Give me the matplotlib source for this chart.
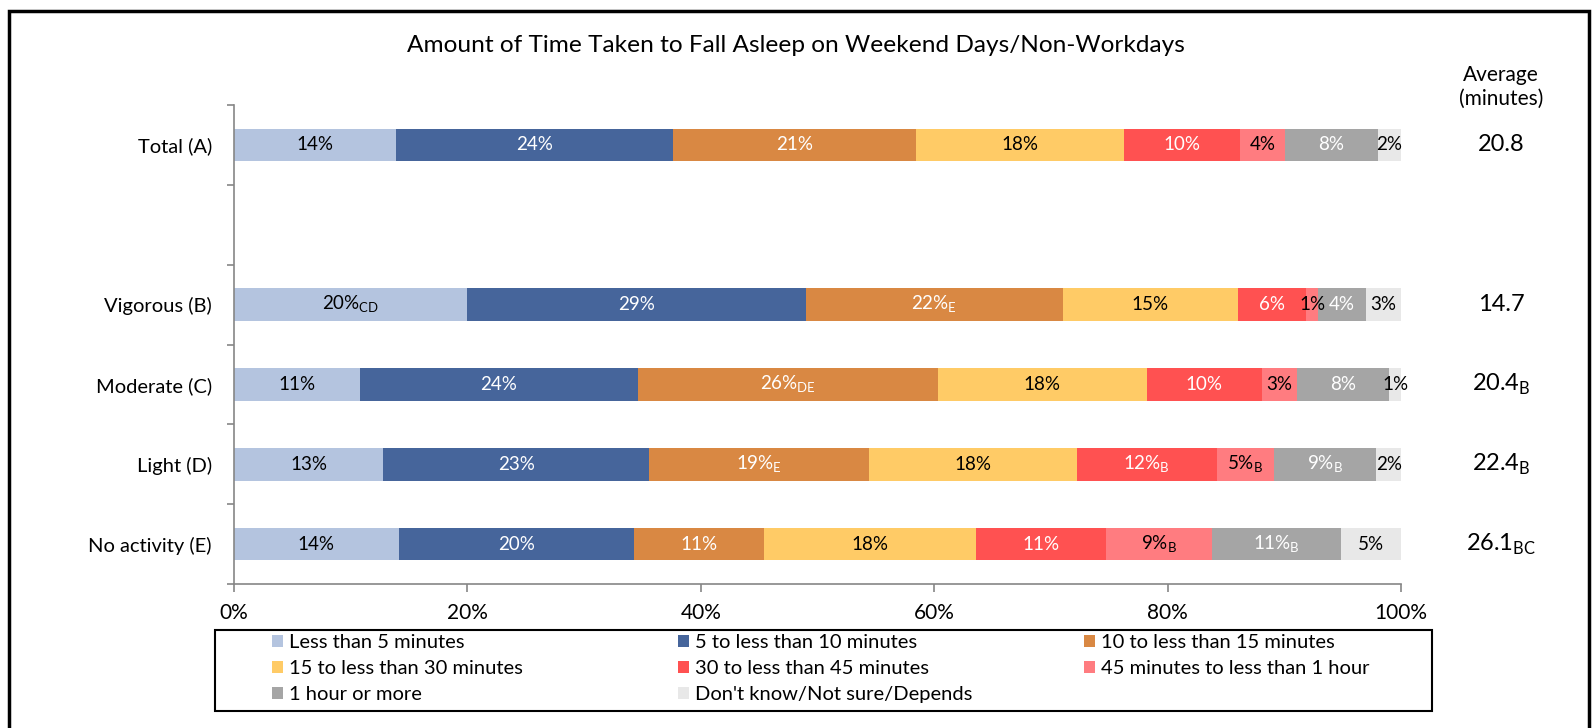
import matplotlib
matplotlib.use("Agg")
import matplotlib.pyplot as plt
from matplotlib.patches import Rectangle, Patch
from matplotlib.transforms import blended_transform_factory

plt.rcParams['font.family'] = ['Lato', 'DejaVu Sans']
plt.rcParams['mathtext.fontset'] = 'custom'
plt.rcParams['mathtext.rm'] = 'Lato'

# categories (index 1 is an empty spacer row)
groups = ["Total (A)", "", "Vigorous (B)", "Moderate (C)", "Light (D)", "No activity (E)"]

series_names = ["Less than 5 minutes", "5 to less than 10 minutes", "10 to less than 15 minutes",
                "15 to less than 30 minutes", "30 to less than 45 minutes",
                "45 minutes to less than 1 hour", "1 hour or more", "Don't know/Not sure/Depends"]

# values per group (percent)
total_vals    = [13.9, 23.7, 20.8, 17.9, 9.9, 3.9, 7.9, 2.0]
vigorous_vals = [20.0, 29.0, 22.0, 15.0, 5.9, 1.0, 4.1, 3.0]
moderate_vals = [10.8, 23.8, 25.7, 17.9, 9.9, 3.0, 7.9, 1.0]
light_vals    = [12.8, 22.8, 18.8, 17.8, 12.0, 4.9, 8.8, 2.1]
none_vals     = [14.1, 20.2, 11.1, 18.2, 11.1, 9.1, 11.1, 5.1]

total_lbl    = ["14%", "24%", "21%", "18%", "10%", "4%", "8%", "2%"]
vigorous_lbl = ["20%$_{\\mathregular{CD}}$", "29%", "22%$_{\\mathregular{E}}$", "15%", "6%", "1%", "4%", "3%"]
moderate_lbl = ["11%", "24%", "26%$_{\\mathregular{DE}}$", "18%", "10%", "3%", "8%", "1%"]
light_lbl    = ["13%", "23%", "19%$_{\\mathregular{E}}$", "18%", "12%$_{\\mathregular{B}}$",
                "5%$_{\\mathregular{B}}$", "9%$_{\\mathregular{B}}$", "2%"]
none_lbl     = ["14%", "20%", "11%", "18%", "11%", "9%$_{\\mathregular{B}}$", "11%$_{\\mathregular{B}}$", "5%"]

averages = ["20.8", "", "14.7", "20.4$_{\\mathregular{B}}$", "22.4$_{\\mathregular{B}}$", "26.1$_{\\mathregular{BC}}$"]

colors = ["#B4C4DF", "#46659B", "#D98843", "#FFCB66", "#FF5151", "#FF7C80", "#A5A5A5", "#E8E8E8"]
text_colors = ["black", "white", "white", "black", "white", "black", "white", "black"]

rows = [(0, total_vals, total_lbl), (2, vigorous_vals, vigorous_lbl), (3, moderate_vals, moderate_lbl),
        (4, light_vals, light_lbl), (5, none_vals, none_lbl)]

fig = plt.figure(figsize=(15.92, 7.28), dpi=100)
ax = fig.add_axes([234 / 1592, 1 - 584 / 728, (1401 - 234) / 1592, (584 - 105) / 728])

for s in range(len(series_names)):
    ys = [r[0] for r in rows]
    widths = [r[1][s] for r in rows]
    lefts = [sum(r[1][:s]) for r in rows]
    ax.barh(ys, widths, left=lefts, height=0.41, color=colors[s], linewidth=0)
    for (y, vals, lbls), l, w in zip(rows, lefts, widths):
        ax.text(l + w / 2, y, lbls[s], ha="center", va="center", fontsize=13.5,
                color=text_colors[s])

ax.set_xlim(0, 100)
ax.set_ylim(5.5, -0.5)
ax.set_xticks([0, 20, 40, 60, 80, 100])
ax.set_xticklabels(["0%", "20%", "40%", "60%", "80%", "100%"], fontsize=15)
ax.set_yticks(range(len(groups)))
ax.set_yticklabels(groups, fontsize=14.5)
ax.set_yticks([i - 0.5 for i in range(len(groups) + 1)], minor=True)
ax.tick_params(axis="y", which="major", length=0, pad=16)
ax.tick_params(axis="y", which="minor", length=5, color="#868686", width=1.2)
ax.tick_params(axis="x", length=6, color="#868686", width=1.2, pad=8)
for side in ["top", "right"]:
    ax.spines[side].set_visible(False)
for side in ["left", "bottom"]:
    ax.spines[side].set_color("#868686")
    ax.spines[side].set_linewidth(1.2)

fig.text(0.5, 1 - 46 / 728, "Amount of Time Taken to Fall Asleep on Weekend Days/Non-Workdays",
         ha="center", va="center", fontsize=17.6)

# average column
fig.text(1501 / 1592, 1 - 87 / 728, "Average\n(minutes)", ha="center", va="center",
         fontsize=15, linespacing=1.2)
tr = blended_transform_factory(fig.transFigure, ax.transData)
for i, a in enumerate(averages):
    ax.text(1501 / 1592, i, a, transform=tr, ha="center", va="center", fontsize=17)

# legend, three fixed columns
legend_cols = [[0, 3, 6], [1, 4, 7], [2, 5]]
col_x = [268 / 1592, 674 / 1592, 1080 / 1592]
for cx, idx in zip(col_x, legend_cols):
    fig.legend([Patch(facecolor=colors[i]) for i in idx], [series_names[i] for i in idx],
               loc="upper left", bbox_to_anchor=(cx, 1 - 630 / 728), frameon=False,
               fontsize=14.5, handlelength=0.55, handleheight=0.55, handletextpad=0.3,
               labelspacing=0.45, borderaxespad=0, borderpad=0.2)
fig.add_artist(Rectangle((215 / 1592, 1 - 711 / 728), (1432 - 215) / 1592, 81 / 728,
                         transform=fig.transFigure, fill=False, edgecolor="black", linewidth=1.5))

# outer frame
fig.add_artist(Rectangle((9 / 1592, -0.05), (1589 - 9) / 1592, 1.05 - 11 / 728,
                         transform=fig.transFigure, fill=False, edgecolor="black", linewidth=2.5,
                         clip_on=False))

fig.savefig("out.png", dpi=100)
